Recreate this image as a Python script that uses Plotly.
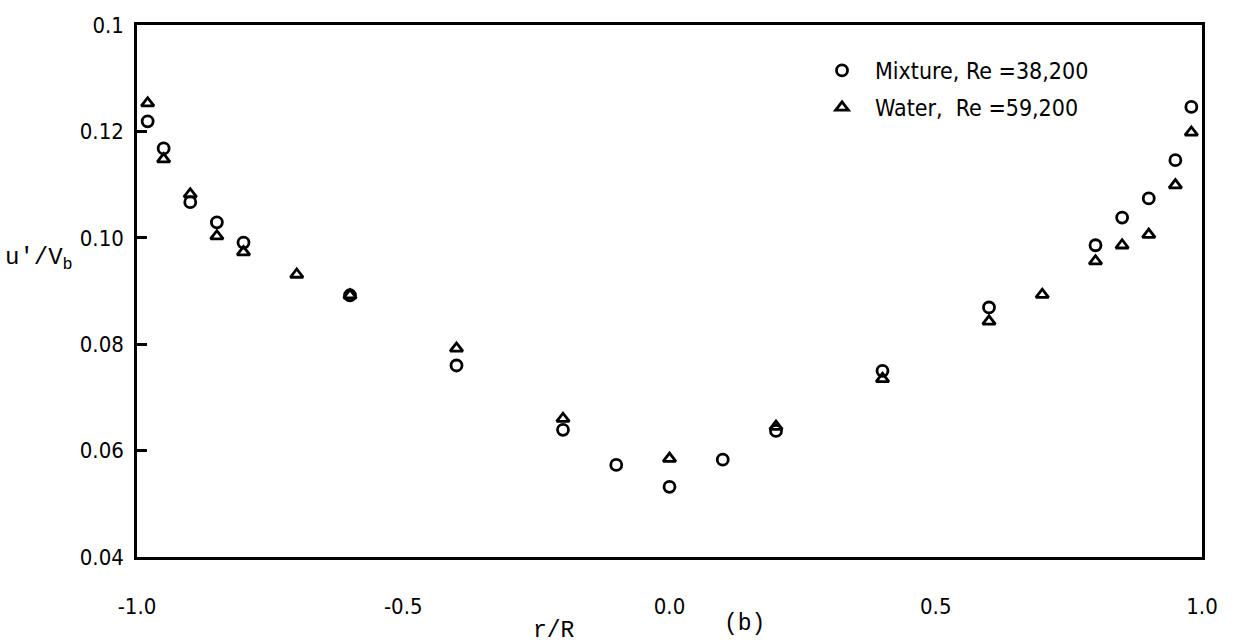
import plotly.graph_objects as go

# Radial positions r/R
r_mix = [-0.98, -0.95, -0.90, -0.85, -0.80, -0.60, -0.40, -0.20, -0.10, 0.00,
         0.10, 0.20, 0.40, 0.60, 0.80, 0.85, 0.90, 0.95, 0.98]
u_mix = [0.1219, 0.1168, 0.1067, 0.1029, 0.0991, 0.0892, 0.0760, 0.0639, 0.0573, 0.0532,
         0.0583, 0.0637, 0.0750, 0.0869, 0.0986, 0.1038, 0.1074, 0.1146, 0.1246]

r_wat = [-0.98, -0.95, -0.90, -0.85, -0.80, -0.70, -0.60, -0.40, -0.20, 0.00,
         0.20, 0.40, 0.60, 0.70, 0.80, 0.85, 0.90, 0.95, 0.98]
u_wat = [0.1253, 0.1148, 0.1082, 0.1003, 0.0973, 0.0931, 0.0892, 0.0792, 0.0660, 0.0585,
         0.0645, 0.0735, 0.0843, 0.0893, 0.0956, 0.0986, 0.1006, 0.1099, 0.1198]

y_ticks = [0.04, 0.06, 0.08, 0.10, 0.12, 0.14]
y_tick_text = ["0.04", "0.06", "0.08", "0.10", "0.12", "0.1"]
x_ticks = [-1.0, -0.5, 0.0, 0.5, 1.0]
x_tick_text = ["-1.0", "-0.5", "0.0", "0.5", "1.0"]

label_mix = "Mixture, Re =38,200"
label_wat = "Water,  Re =59,200"

sans = "DejaVu Sans Condensed, Liberation Sans Narrow, sans-serif"
tick_font = dict(family=sans, size=22, color="black")
mono_font = dict(family="Liberation Mono, Courier New, monospace", size=23, color="black")

fig = go.Figure()
fig.add_trace(go.Scatter(
    x=r_mix, y=u_mix, mode="markers", name=label_mix, legendgroup="mix",
    marker=dict(symbol="circle-open", size=11, color="black", line=dict(width=2.8, color="black")),
))
fig.add_trace(go.Scatter(
    x=r_wat, y=u_wat, mode="markers", name=label_wat, legendgroup="wat",
    marker=dict(symbol="triangle-up-open", size=11, color="black", line=dict(width=2.8, color="black")),
))

fig.update_layout(
    width=1236, height=643,
    margin=dict(l=137, r=34, t=25, b=86),
    paper_bgcolor="white", plot_bgcolor="white",
    showlegend=True,
    legend=dict(
        x=0.631, y=0.955, xanchor="left", yanchor="top",
        bgcolor="rgba(0,0,0,0)", borderwidth=0,
        font=dict(family=sans, size=23, color="black"),
        traceorder="grouped", tracegroupgap=4, itemwidth=56,
    ),
    xaxis=dict(
        range=[-1.0, 1.0], tickmode="array", tickvals=x_ticks, ticktext=x_tick_text,
        showgrid=False, zeroline=False, showline=True, mirror=True,
        linecolor="black", linewidth=2.5, ticks="", tickfont=tick_font,
        ticklabelstandoff=28,
    ),
    yaxis=dict(
        range=[0.04, 0.14], tickmode="array", tickvals=y_ticks, ticktext=y_tick_text,
        showgrid=False, zeroline=False, showline=True, mirror=True,
        linecolor="black", linewidth=2.5, ticks="inside", ticklen=10, tickwidth=2.5,
        tickcolor="black", tickfont=tick_font, ticklabelstandoff=6,
    ),
    annotations=[
        dict(text="u'/V<sub>b</sub>", xref="paper", yref="paper", x=-0.126, y=0.56,
             xanchor="left", yanchor="middle", showarrow=False,
             font=dict(family=mono_font["family"], size=24, color="black")),
        dict(text="r/R", xref="paper", yref="paper", x=0.392, y=-0.14,
             xanchor="center", yanchor="middle", showarrow=False, font=mono_font),
        dict(text="(b)", xref="paper", yref="paper", x=0.57, y=-0.125,
             xanchor="center", yanchor="middle", showarrow=False, font=mono_font),
    ],
)

fig.write_html("out.html")
